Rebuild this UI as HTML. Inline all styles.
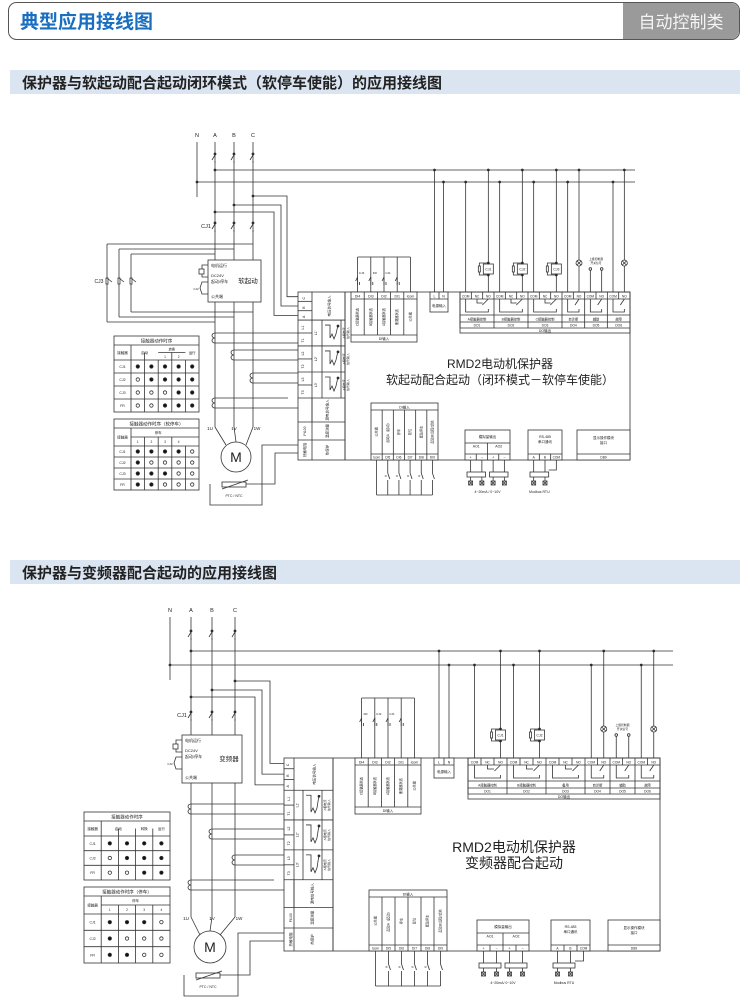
<!DOCTYPE html>
<html><head><meta charset="utf-8"><style>
body{margin:0;background:#fff;width:750px;height:1007px;overflow:hidden;font-family:"Liberation Sans","Noto Sans CJK SC",sans-serif}
svg{position:absolute;left:0;top:0}
</style></head><body>
<svg id="s" width="750" height="1007" viewBox="0 0 750 1007" xmlns="http://www.w3.org/2000/svg" font-family="Liberation Sans, Noto Sans CJK SC, sans-serif">
<rect x="8.5" y="2.5" width="731" height="37" rx="8" fill="#fff" stroke="#555"/>
<path d="M623 3 H731 a8 8 0 0 1 8 8 V31 a8 8 0 0 1 -8 8 H623 Z" fill="#9a9a9a"/>
<text x="20" y="28" font-size="19" font-weight="bold" fill="#1a6ec0">典型应用接线图</text>
<text x="681" y="28" font-size="17" fill="#f4f4f4" text-anchor="middle">自动控制类</text>
<rect x="10" y="70" width="730" height="24" fill="#dbe5f1"/>
<text x="22" y="88" font-size="15" font-weight="bold" fill="#222">保护器与软起动配合起动闭环模式（软停车使能）的应用接线图</text>
<rect x="10" y="560" width="730" height="24" fill="#dbe5f1"/>
<text x="22" y="578" font-size="15" font-weight="bold" fill="#222">保护器与变频器配合起动的应用接线图</text>
<g id="g" stroke="#333" stroke-width="0.8" fill="none"></g>
</svg>
<script>
var g=document.getElementById('g'),NS='http://www.w3.org/2000/svg';
function el(t,a,txt){var e=document.createElementNS(NS,t);for(var k in a)e.setAttribute(k,a[k]);if(txt!=null)e.textContent=txt;g.appendChild(e);return e;}
function L(x1,y1,x2,y2){el('line',{x1:x1,y1:y1,x2:x2,y2:y2});}
function P(pts){el('polyline',{points:pts.map(function(p){return p.join(',')}).join(' ')});}
function R(x,y,w,h,f){el('rect',{x:x,y:y,width:w,height:h,fill:f||'none'});}
function C(x,y,r,f){el('circle',{cx:x,cy:y,r:r,fill:f||'none'});}
function T(x,y,s,sz,anc,rot,fw){var a={x:x,y:y,'font-size':sz||4,'text-anchor':anc||'middle',fill:'#222',stroke:'none'};if(fw)a['font-weight']=fw;if(rot)a.transform='rotate('+rot+' '+x+' '+y+')';el('text',a,s);}
function dot(x,y){C(x,y,1,'#222');}
function sw(x,y){L(x,y-5,x,y-2);L(x,y-2,x-3,y+3);L(x,y+4,x,y+6);dot(x,y-3);}
function coilV(x,y){ // CT coil on vertical wire
  el('path',{d:'M'+x+' '+y+' a3 2.5 0 1 0 0 5 a3 2.5 0 1 0 0 5'});}
function table(x,y,w,t,rows,cols,hdrH,title){
  var rh=(t.h-9-hdrH)/rows.length;
  R(x,y,w,t.h);L(x,y+9,x+w,y+9);T(x+w/2,y+6.5,title,4.5);
  var c0=x+w*0.2,cw=(x+w-c0)/cols;
  L(c0,y+9,c0,y+t.h);
  T(x+w*0.1,y+9+hdrH/2+1.5,'接触器',3.5);
  for(var i=0;i<rows.length;i++){var yy=y+9+hdrH+i*rh;L(x,yy,x+w,yy);T(x+w*0.1,yy+rh/2+1.5,rows[i][0],3.5);
    for(var j=0;j<cols;j++){var cx=c0+cw*j+cw/2;if(rows[i][1][j]=='1')C(cx,yy+rh/2,1.7,'#111');else C(cx,yy+rh/2,1.7,'#fff');}}
  for(var j=1;j<cols;j++){L(c0+cw*j,y+9+(t.split&&t.split.indexOf(j)<0?hdrH:hdrH/2),c0+cw*j,y+t.h);}
  if(t.hdr)t.hdr(c0,cw,y+9,hdrH);
}
function draw(p){
  var b=p.box,H=b.b-b.y,W;
  // labels + phase lines
  [['N',p.N],['A',p.A],['B',p.B],['C',p.C]].forEach(function(q){T(q[1],p.lbl,q[0],5.5);});
  L(p.N,p.lbl+5,p.N,p.bus2+15);
  [p.A,p.B,p.C].forEach(function(x){L(x,p.lbl+5,x,p.mot.y-30);sw(x,p.sw);sw(x,p.cj1);});
  T(p.A-9,p.cj1+2,'CJ1',5.5);
  L(p.A,p.bus1,p.busR,p.bus1);L(p.N,p.bus2,p.busR,p.bus2);dot(p.A,p.bus1);dot(p.N,p.bus2);
  // taps to box
  var rowsF=[0,.167,.321,.476,.631,.774,.881,1],ry=rowsF.map(function(f){return b.y+f*H;});
  var abcH=(ry[1]-ry[0])/3;
  var tap=[[p.C,p.tapY[0],p.tapX[0],ry[0]+abcH*.5],[p.B,p.tapY[1],p.tapX[1],ry[0]+abcH*1.5],[p.A,p.tapY[2],p.tapX[2],ry[0]+abcH*2.5]];
  tap.forEach(function(t){P([[t[0],t[1]],[t[2],t[1]],[t[2],t[3]],[b.x,t[3]]]);dot(t[0],t[1]);});
  // starter box
  var s=p.st;R(s.x,s.y,s.w,s.h,'#fff');
  T(s.x+3,s.y+7,'电机运行',4,'start');T(s.x+3,s.y+17,'DC24V',4,'start');T(s.x+3,s.y+23,'起动/停车',4,'start');T(s.x+3,s.y+s.h-4,'公共端',4,'start');
  T(s.x+s.w-13,s.y+s.h/2+2,p.stName,6.5);
  P([[s.x,s.y+5],[s.x-6,s.y+5],[s.x-6,s.y+17],[s.x,s.y+17]]);R(s.x-9,s.y+9,5,5,'#fff');
  P([[s.x,s.y+22],[s.x-6,s.y+22],[s.x-8,s.y+28],[s.x-6,s.y+34],[s.x,s.y+34]]);T(s.x-12,s.y+30,'CJ2',3);
  if(p.cj3){L(p.cj3.x,p.cj3.y1,p.cj3.x,p.cj3.y2);P([[p.cj3.x,p.cj3.y1],[p.C,p.cj3.y1]]);
    L(p.cj3.x,p.cj3.y2,p.A,p.cj3.y2);L(p.cj3.x+12,p.cj3.y1+5,p.B,p.cj3.y1+5);L(p.cj3.x+24,p.cj3.y1+10,p.A,p.cj3.y1+10);
    L(p.cj3.x+12,p.cj3.y1+5,p.cj3.x+12,p.cj3.y2-5);L(p.cj3.x+24,p.cj3.y1+10,p.cj3.x+24,p.cj3.y2-10);
    L(p.cj3.x+12,p.cj3.y2-5,p.B,p.cj3.y2-5);L(p.cj3.x+24,p.cj3.y2-10,p.C,p.cj3.y2-10);
    T(p.cj3.x-8,p.cj3.ys+2,'CJ3',5);
    [0,12,24].forEach(function(d){R(p.cj3.x+d-1,p.cj3.ys-3,2,6,'#fff');el('line',{x1:p.cj3.x+d,y1:p.cj3.ys-3,x2:p.cj3.x+d+5,y2:p.cj3.ys+1});});}
  // CTs
  var ct=[[p.A,p.ct[0],1],[p.B,p.ct[1],3],[p.C,p.ct[2],5]];
  ct.forEach(function(c,i){coilV(c[0],c[1]);L(c[0],c[1],b.x,c[1]);L(c[0],c[1]+10,b.x,c[1]+10);});
  coilV(p.A,p.ct[3]);L(p.A,p.ct[3],b.x-10,p.ct[3]);L(p.A,p.ct[3]+10,b.x,p.ct[3]+10);
  // motor
  var m=p.mot;T(p.A-5,m.y-27,'1U',4.5);T(p.B,m.y-27,'1V',4.5);T(p.C+4,m.y-27,'1W',4.5);
  L(p.A,m.y-30,m.x-10,m.y-12);L(p.C,m.y-30,m.x+10,m.y-12);L(p.B,m.y-30,m.x,m.y-m.r);
  C(m.x,m.y,m.r,'#fff');T(m.x,m.y+5,'M',14,'middle',0);
  // PTC
  R(m.x-14,m.y+m.r+10,24,5,'#fff');L(m.x-14,m.y+m.r+17,m.x+12,m.y+m.r+8);T(m.x-2,m.y+m.r+25,'PTC / NTC',3.5);
  P([[m.x-26,m.y+m.r+12],[m.x-26,m.y+m.r+33],[p.ptcX[0],m.y+m.r+33],[p.ptcX[0],ry[6]+5],[b.x,ry[6]+5]]);
  P([[m.x+10,m.y+m.r+12],[p.ptcX[1],m.y+m.r+12],[p.ptcX[1],ry[6]+13],[b.x,ry[6]+13]]);
  // main box
  R(b.x,b.y,b.r-b.x,H,'#fff');
  var c1=b.x+p.lw[0],c2=b.x+p.lw[1],c3=b.x+p.lw[2];
  L(c1,b.y,c1,b.b);L(c3,b.y,c3,b.b);L(c2,ry[1],c2,ry[4]);
  for(var i=1;i<7;i++)L(b.x,ry[i],c3,ry[i]);
  for(var k=1;k<3;k++)L(b.x,ry[0]+abcH*k,c1,ry[0]+abcH*k);
  ['C','B','A'].forEach(function(t,k){T(b.x+(c1-b.x)/2,ry[0]+abcH*k+abcH/2+1.5,t,3.5,'middle',-90);});
  [['L1','T1'],['L2','T2'],['L3','T3']].forEach(function(t,k){var y0=ry[k+1],hh=ry[k+2]-y0;L(b.x,y0+hh/2,c1,y0+hh/2);
    T(b.x+6,y0+hh/4+1,t[0],3.5,'middle',-90);T(b.x+6,y0+hh*3/4+1,t[1],3.5,'middle',-90);T((c1+c2)/2,y0+hh/2,'L'+(k+1)+'\'',3.5,'middle',-90);
    P([[c2+3,y0+5],[c2+8,y0+5],[c2+8,y0+hh-8],[c2+10,y0+hh-12],[c2+12,y0+hh-7],[c2+14,y0+hh-12],[c2+16,y0+5]]);dot(c2+16,y0+6);
    L(c2+19,y0,c2+19,y0+hh);T(c2+23,y0+hh/2,'A相电流',3,'middle',-90);T(c2+27,y0+hh/2,'信号输入',3,'middle',-90);});
  T((c1+c3)/2+2,ry[0]+(ry[1]-ry[0])/2,'电压信号输入',3.5,'middle',-90);
  L(c1,ry[4],c1,ry[5]);T((c1+c3)/2,ry[4]+(ry[5]-ry[4])/2,'漏电信号输入',3.5,'middle',-90);
  T(b.x+8,ry[5]+(ry[6]-ry[5])/2,'Pt100',3.5,'middle',-90);T((c1+c3)/2,ry[5]+(ry[6]-ry[5])/2,'温度测量',3.5,'middle',-90);
  T(b.x+8,ry[6]+(ry[7]-ry[6])/2,'热敏电阻',3.5,'middle',-90);T((c1+c3)/2,ry[6]+(ry[7]-ry[6])/2,'热保护',3.5,'middle',-90);
  L(c3+p.lw[3],b.y,c3+p.lw[3],b.b);
  // main text
  T(p.txt[0],p.txt[1],'RMD2电动机保护器',p.txt[3]);T(p.txt[0],p.txt[2],p.txt2,p.txt[3]);
  // top DI
  var d=p.di,dw=d.w/5,dh=p.diH;R(d.x,b.y,d.w,dh,'#fff');L(d.x,b.y+7,d.x+d.w,b.y+7);L(d.x,b.y+dh-7,d.x+d.w,b.y+dh-7);T(d.x+d.w/2,b.y+dh-2,'DI输入',3.5);
  var dil=['DI4','DI3','DI2','DI1','Icom'],dit=['C接触器状态','B接触器状态','A接触器状态','断路器状态','公共端'];
  for(var i=0;i<5;i++){var xx=d.x+dw*i;if(i)L(xx,b.y,xx,b.y+dh-7);T(xx+dw/2,b.y+5.5,dil[i],3.5);T(xx+dw/2+1,b.y+7+(dh-14)/2,dit[i],3.2,'middle',-90);
    if(i<4){L(xx+dw/2,b.y,xx+dw/2,d.top+20);L(xx+dw/2,d.top+20,xx+dw/2-2,d.top+24);L(xx+dw/2+2,d.top+25,xx+dw/2+2,d.top+28);L(xx+dw/2,d.top+28,xx+dw/2,d.top);}}
  L(d.x+dw*4.5,b.y,d.x+dw*4.5,d.top);L(d.x+dw*0.5,d.top,d.x+dw*4.5,d.top);
  p.diLbl.forEach(function(t,i){T(d.x+dw*(i+0.5)+4,d.top+17,t,3);});
  // LN
  var n=p.ln;R(n.x,b.y,n.w,20,'#fff');L(n.x,b.y+7,n.x+n.w,b.y+7);L(n.x+n.w/2,b.y,n.x+n.w/2,b.y+7);T(n.x+n.w/4,b.y+5.5,'L',3.5);T(n.x+n.w*3/4,b.y+5.5,'N',3.5);T(n.x+n.w/2,b.y+15,'电源输入',3.5);
  L(n.x+n.w/4,b.y,n.x+n.w/4,p.bus1);dot(n.x+n.w/4,p.bus1);L(n.x+n.w*3/4,b.y,n.x+n.w*3/4,p.bus2);dot(n.x+n.w*3/4,p.bus2);
  // DO
  var o=p.dO,ow=o.wide,on=o.nar,x=o.x;
  R(o.x,b.y,b.r-o.x,41);
  [7,23,30,36].forEach(function(yy){L(o.x,b.y+yy,b.r,b.y+yy);});
  T((o.x+b.r)/2,b.y+40,'DO输出',3.5);
  for(var i=0;i<6;i++){var wide=i<3,gw=wide?ow:on,n3=wide?3:2,tw=gw/n3;
    L(x,b.y,x,b.y+36);
    for(var k=0;k<n3;k++){if(k)L(x+tw*k,b.y,x+tw*k,b.y+7);T(x+tw*k+tw/2,b.y+5.3,(wide?['COM','NC','NO']:['COM','NO'])[k],3.2);}
    // relay symbol
    P([[x+tw/2,b.y+7],[x+tw/2,b.y+20],[x+gw-tw/2,b.y+20],[x+gw-tw/2,b.y+17]]);L(x+gw-tw/2,b.y+7,x+gw-tw/2+ (wide?-6:-4),b.y+13);
    if(wide)P([[x+tw*1.5,b.y+7],[x+tw*1.5,b.y+11],[x+tw*2,b.y+11]]);
    T(x+gw/2,b.y+28.3,p.doL[i],3.3);T(x+gw/2,b.y+34.3,'DO'+(i+1),3.3);
    var cx=x+tw/2,nx=x+gw-tw/2;
    if(p.doC[i]=='coil'){L(cx,b.y,cx,p.bus2);dot(cx,p.bus2);L(nx,b.y,nx,p.bus1);dot(nx,p.bus1);R(nx-5,p.coilY-5,10,10,'#fff');T(nx,p.coilY+1.5,p.coilN[i],3.5);
      P([[nx,p.coilY-6],[nx-9,p.coilY-6],[nx-9,p.coilY+6],[nx,p.coilY+6]]);R(nx-10,p.coilY-3,2,6,'#fff');dot(nx,p.coilY-6);dot(nx,p.coilY+6);}
    else if(p.doC[i]=='lamp'){L(cx,b.y,cx,p.bus2);dot(cx,p.bus2);L(nx,b.y,nx,p.bus1);dot(nx,p.bus1);C(nx,p.coilY-6,3,'#fff');L(nx-2,p.coilY-8,nx+2,p.coilY-4);L(nx+2,p.coilY-8,nx-2,p.coilY-4);}
    else if(p.doC[i]=='aux'){L(cx,b.y,cx,p.coilY);L(nx,b.y,nx,p.coilY);C(cx,p.coilY,1.3,'#fff');C(nx,p.coilY,1.3,'#fff');T(x+gw/2,p.coilY-9,'上级控制器',2.8);T(x+gw/2,p.coilY-5,'开关信号',2.8);}
    x+=gw;}
  // bottom DI
  var q=p.bdi,qw=(q.r-q.x)/6;R(q.x,q.y,q.r-q.x,b.b-q.y,'#fff');L(q.x,q.y+7,q.r,q.y+7);L(q.x,b.b-6,q.r,b.b-6);T((q.x+q.r)/2,q.y+5.5,'DI输入',3.5);
  var bl=['Icom','DI5','DI6','DI7','DI8','DI9'],bt=['公共端','起动A（起动）','停车','复位','紧急停车','起动B/远程/就地'];
  for(var i=0;i<6;i++){var xx=q.x+qw*i;if(i)L(xx,q.y+7,xx,b.b);T(xx+qw/2,b.b-1.5,bl[i],3.2);T(xx+qw/2+1,q.y+7+(b.b-6-q.y-7)/2,bt[i],3.2,'middle',-90);
    var cx=xx+qw/2;L(cx,b.b,cx,b.b+13);if(i){L(cx,b.b+13,cx+2,b.b+19);L(cx,b.b+20,cx,b.b+35);if(i<5){L(cx-3,b.b+16,cx-1,b.b+16);}}else L(cx,b.b+13,cx,b.b+35);}
  L(q.x+qw/2,b.b+35,q.x+qw*5.5,b.b+35);
  // AO
  var a=p.ao,aw=(a.r-a.x)/4;R(a.x,a.y,a.r-a.x,b.b-a.y,'#fff');L(a.x,a.y+13,a.r,a.y+13);L(a.x,b.b-6,a.r,b.b-6);T((a.x+a.r)/2,a.y+8,'模拟量输出',3.5);
  L(a.x+aw*2,a.y+13,a.x+aw*2,b.b);L(a.x+aw,b.b-6,a.x+aw,b.b);L(a.x+aw*3,b.b-6,a.x+aw*3,b.b);T(a.x+aw,a.y+17.5,'AO1',3.5);T(a.x+aw*3,a.y+17.5,'AO2',3.5);
  for(var i=0;i<4;i++){var cx=a.x+aw*i+aw/2;T(cx,b.b-1.5,i%2?'−':'+',3.5);L(cx,b.b,cx,b.b+22);R(cx-2,b.b+21,4,4,'#fff');L(cx-2,b.b+21,cx+2,b.b+25);L(cx+2,b.b+21,cx-2,b.b+25);}
  R(a.x+2,b.b+12,aw*2-4,5,'#fff');R(a.x+aw*2+2,b.b+12,aw*2-4,5,'#fff');T((a.x+a.r)/2,b.b+33,p.aoTxt,3.5);
  // RS485
  var r=p.rs,rw=(r.r-r.x)/3;R(r.x,r.y,r.r-r.x,b.b-r.y,'#fff');L(r.x,b.b-6,r.r,b.b-6);T((r.x+r.r)/2,r.y+8,'RS-485',3.5);T((r.x+r.r)/2,r.y+13,'串口通讯',3.5);
  ['A','B','COM'].forEach(function(t,i){if(i)L(r.x+rw*i,b.b-6,r.x+rw*i,b.b);T(r.x+rw*i+rw/2,b.b-1.5,t,3.2);});
  [0,1].forEach(function(i){var cx=r.x+rw*i+rw/2;L(cx,b.b,cx,b.b+22);R(cx-2,b.b+21,4,4,'#fff');L(cx-2,b.b+21,cx+2,b.b+25);L(cx+2,b.b+21,cx-2,b.b+25);});
  R(r.x+2,b.b+12,rw*2-4,5,'#fff');P([[r.x+rw*2.5,b.b],[r.x+rw*2.5,b.b+10],[r.x+rw*2-2,b.b+10]]);T(r.x+rw,b.b+33,'Modbus RTU',3.5);
  // display
  var dd=p.disp;R(dd.x,dd.y,b.r-dd.x,b.b-dd.y,'#fff');L(dd.x,b.b-6,b.r,b.b-6);T((dd.x+b.r)/2,dd.y+9,'显示操作模块',3.5);T((dd.x+b.r)/2,dd.y+14,'接口',3.5);T((dd.x+b.r)/2,b.b-1.5,'DB9',3.2);
  // tables
  p.tabs.forEach(function(t){table(t.x,t.y,t.w,t,t.rows,t.rows[0][1].length,t.hh,t.title);});
}
function hdr1(n){return function(c0,cw,y,hh){T(c0+cw,y+hh/2+1.5,'启动',3.5);if(n==5){L(c0+cw*2,y+hh/2,c0+cw*4,y+hh/2);T(c0+cw*3,y+hh/4+1.5,'转换',3.2);T(c0+cw*2.5,y+hh*3/4+1.5,'1',3.2);T(c0+cw*3.5,y+hh*3/4+1.5,'2',3.2);T(c0+cw*4.5,y+hh/2+1.5,'运行',3.5);}else{T(c0+cw*2.5,y+hh/2+1.5,'转换',3.5);T(c0+cw*3.5,y+hh/2+1.5,'运行',3.5);}};}
function hdr2(n){return function(c0,cw,y,hh){L(c0,y+hh/2,c0+cw*n,y+hh/2);T(c0+cw*2,y+hh/4+1.5,'停车',3.5);for(var i=0;i<4;i++)T(c0+cw*i+cw/2,y+hh*3/4+1.5,''+(i+1),3.2);};}
draw({N:197,A:215,B:234,C:253,lbl:137,sw:157,cj1:226,bus1:170,bus2:182,busR:635,
 tapY:[196,205,212],tapX:[287,281,274],
 st:{x:208,y:260,w:53,h:42},stName:'软起动',
 cj3:{x:107,y1:244,y2:322,ys:281},
 ct:[333,350,373,398],mot:{x:236,y:457,r:15},ptcX:[262,275],
 box:{x:298,y:292,r:630,b:460},lw:[14,24,47,0.01],
 txt:[500,368,384,12],txt2:'软起动配合起动（闭环模式－软停车使能）',
 di:{x:351,w:66,top:257},diH:50,diLbl:['CJ3','FR','CJ1',''],
 ln:{x:430,w:18},dO:{x:460,wide:34,nar:22.67},
 doL:['A接触器控制','B接触器控制','C接触器控制','自诊断','辅助','故障'],
 doC:['coil','coil','coil','lamp','aux','lamp'],coilY:269,coilN:['CJ1','CJ2','CJ3'],
 bdi:{x:371,r:438,y:403},ao:{x:465,r:510,y:430},aoTxt:'4~20mA / 0~10V',rs:{x:528,r:562,y:430},disp:{x:577,y:430},
 tabs:[{x:114,y:336,w:85,h:76,hh:15,rows:[['CJ1','11111'],['CJ2','01111'],['CJ3','00011'],['FR','00111']],title:'接触器动作时序',split:[1,3],hdr:hdr1(5)},
       {x:114,y:419,w:85,h:71,hh:18,rows:[['CJ1','11110'],['CJ2','10000'],['CJ3','11100'],['FR','11000']],title:'接触器动作时序（软停车）',split:[1,2,3],hdr:hdr2(5)}]
});
draw({N:170,A:191,B:212,C:235,lbl:612,sw:634,cj1:715,bus1:651,bus2:665,busR:673,
 tapY:[681,690,697],tapX:[270,262,255],
 st:{x:182,y:735,w:60,h:48},stName:'变频器',
 cj3:null,
 ct:[804,829,855,880],mot:{x:210,y:947,r:16},ptcX:[238,250],
 box:{x:284,y:758,r:660,b:951},lw:[10,19,49,0.01],
 txt:[514,852,868,14],txt2:'变频器配合起动',
 di:{x:355,w:66,top:698},diH:56,diLbl:['FR','CJ2','CJ1',''],
 ln:{x:434,w:20},dO:{x:468,wide:39,nar:25},
 doL:['A接触器控制','B接触器控制','备用','自诊断','辅助','故障'],
 doC:['coil','coil','none','lamp','aux','lamp'],coilY:735,coilN:['CJ1','CJ2',''],
 bdi:{x:369,r:447,y:890},ao:{x:477,r:529,y:920},aoTxt:'4~20mA/  0~10V',rs:{x:551,r:590,y:920},disp:{x:608,y:920},
 tabs:[{x:84,y:812,w:86,h:68,hh:15,rows:[['CJ1','1111'],['CJ2','0111'],['FR','0011']],title:'接触器动作时序',split:[1,2,3],hdr:hdr1(4)},
       {x:84,y:887,w:86,h:76,hh:18,rows:[['CJ1','1110'],['CJ2','1000'],['FR','1100']],title:'接触器动作时序（停车）',split:[1,2,3],hdr:hdr2(4)}]
});
</script>
</body></html>
